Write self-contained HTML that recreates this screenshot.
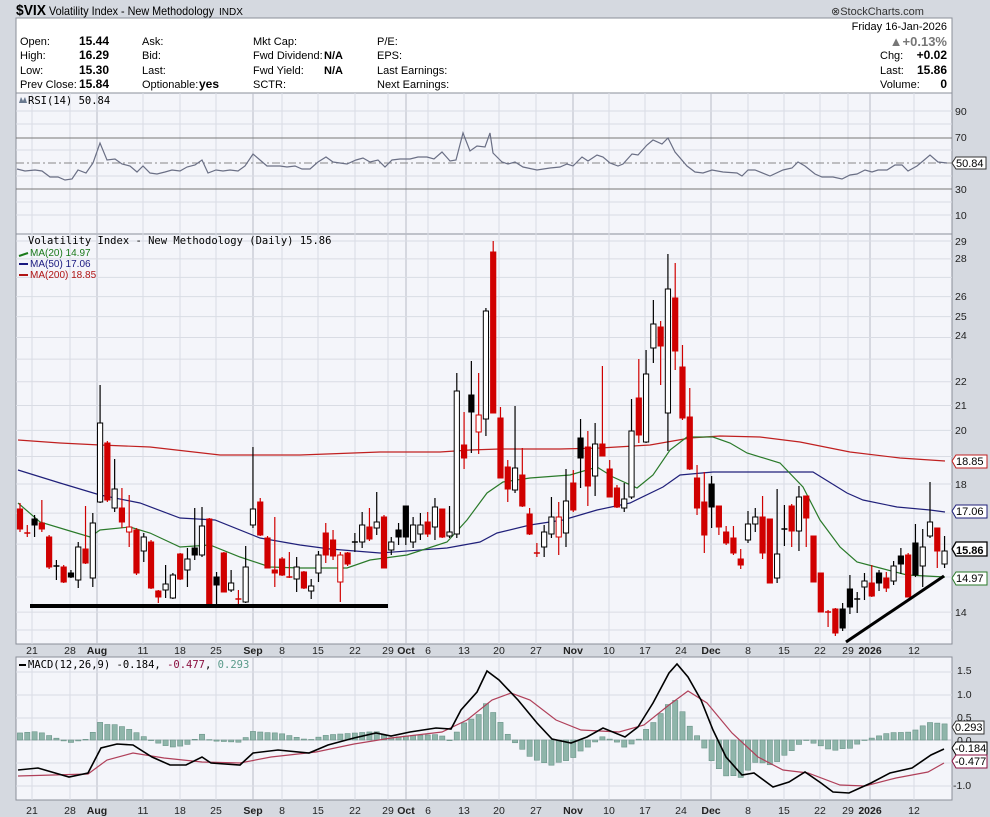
<!DOCTYPE html>
<html><head><meta charset="utf-8">
<style>
html,body{margin:0;padding:0;background:#d5d9e0;}
body{width:990px;height:817px;position:relative;overflow:hidden;font-family:"Liberation Sans",sans-serif;}
svg{position:absolute;left:0;top:0;}
</style></head><body>
<svg id="s" width="990" height="817" xmlns="http://www.w3.org/2000/svg" font-family="Liberation Sans, sans-serif">
<rect x="0" y="0" width="990" height="817" fill="#d5d9e0"/>
<!-- header -->
<text x="16" y="15" font-size="15" font-weight="bold" fill="#000" textLength="30" lengthAdjust="spacingAndGlyphs">$VIX</text>
<text x="49" y="15" font-size="12" fill="#000" textLength="165" lengthAdjust="spacingAndGlyphs">Volatility Index - New Methodology</text>
<text x="219" y="15" font-size="10" fill="#000" textLength="24" lengthAdjust="spacingAndGlyphs">INDX</text>
<text x="831" y="15" font-size="11" fill="#333">⊗StockCharts.com</text>
<rect x="16" y="18" width="936" height="75" fill="#fff" stroke="#8a8f99"/>
<g font-size="11" fill="#000">
<text x="20" y="45">Open:</text><text x="20" y="59">High:</text><text x="20" y="74">Low:</text><text x="20" y="88">Prev Close:</text>
<g font-weight="bold" font-size="12"><text x="79" y="45">15.44</text><text x="79" y="59">16.29</text><text x="79" y="74">15.30</text><text x="79" y="88">15.84</text></g>
<text x="142" y="45">Ask:</text><text x="142" y="59">Bid:</text><text x="142" y="74">Last:</text><text x="142" y="88">Optionable:</text><text x="199" y="88" font-weight="bold" font-size="12">yes</text>
<text x="253" y="45">Mkt Cap:</text><text x="253" y="59">Fwd Dividend:</text><text x="253" y="74">Fwd Yield:</text><text x="253" y="88">SCTR:</text>
<text x="324" y="59" font-weight="bold">N/A</text><text x="324" y="74" font-weight="bold">N/A</text>
<text x="377" y="45">P/E:</text><text x="377" y="59">EPS:</text><text x="377" y="74">Last Earnings:</text><text x="377" y="88">Next Earnings:</text>
<text x="947" y="30" text-anchor="end">Friday  16-Jan-2026</text>
<text x="947" y="46" text-anchor="end" font-weight="bold" font-size="13" fill="#777">▲+0.13%</text>
<text x="880" y="59">Chg:</text><text x="947" y="59" text-anchor="end" font-weight="bold" font-size="12">+0.02</text>
<text x="880" y="74">Last:</text><text x="947" y="74" text-anchor="end" font-weight="bold" font-size="12">15.86</text>
<text x="880" y="88">Volume:</text><text x="947" y="88" text-anchor="end" font-weight="bold" font-size="12">0</text>
</g>
<!-- panels -->
<rect x="16" y="93" width="936" height="141" fill="#f4f5fa" stroke="#8a8f99"/>
<rect x="16" y="234" width="936" height="410" fill="#f4f5fa" stroke="#8a8f99"/>
<rect x="16" y="657" width="936" height="143" fill="#f4f5fa" stroke="#8a8f99"/>
<g id="grid"></g>
<!-- RSI lines -->
<line x1="16" y1="138" x2="952" y2="138" stroke="#777" stroke-width="1"/>
<line x1="16" y1="189" x2="952" y2="189" stroke="#777" stroke-width="1"/>
<line x1="16" y1="163" x2="952" y2="163" stroke="#888" stroke-dasharray="8,3,2,3"/>
<polyline id="rsi" fill="none" stroke="#6a6f85" stroke-width="1.2"/>
<g font-size="11" fill="#000">
<text x="28" y="104" font-family="DejaVu Sans Mono, monospace" font-size="10.5">RSI(14) 50.84</text>
<text x="28" y="244" font-family="DejaVu Sans Mono, monospace" font-size="10.5">Volatility Index - New Methodology (Daily) 15.86</text>
<text x="30" y="256" font-size="10" fill="#1a7a1a">MA(20) 14.97</text>
<text x="30" y="267" font-size="10" fill="#1a1a80">MA(50) 17.06</text>
<text x="30" y="278" font-size="10" fill="#b01515">MA(200) 18.85</text>
<text x="28" y="668" font-family="DejaVu Sans Mono, monospace" font-size="10.5">MACD(12,26,9) -0.184, <tspan fill="#8a1040">-0.477</tspan>, <tspan fill="#5a9a8a">0.293</tspan></text>
</g>
<path d="M19 103 l2-6 2 4 2-4 2 6z" fill="#6a7a90"/>
<line x1="19" y1="256" x2="28" y2="253" stroke="#1a7a1a" stroke-width="2"/>
<line x1="19" y1="264" x2="28" y2="264" stroke="#1a1a80" stroke-width="2"/>
<line x1="19" y1="275" x2="28" y2="275" stroke="#b01515" stroke-width="2"/>
<line x1="19" y1="665" x2="26" y2="665" stroke="#000" stroke-width="2"/>
<g id="hist"></g>
<polyline id="ma200" fill="none" stroke="#c02020" stroke-width="1.2"/>
<polyline id="ma50" fill="none" stroke="#20207a" stroke-width="1.2"/>
<polyline id="ma20" fill="none" stroke="#2a7a2a" stroke-width="1.2"/>
<g id="candles"></g>
<line x1="30" y1="606" x2="388" y2="606" stroke="#000" stroke-width="4"/>
<line x1="846" y1="642" x2="944" y2="576" stroke="#000" stroke-width="3"/>
<polyline id="sig" fill="none" stroke="#b0405a" stroke-width="1.2"/>
<polyline id="macd" fill="none" stroke="#000" stroke-width="1.6"/>
<!-- right axis -->
<g font-size="10.5" fill="#222">
<text x="955" y="115">90</text><text x="955" y="141">70</text><text x="955" y="193">30</text><text x="955" y="219">10</text>
<text x="955" y="245">29</text><text x="955" y="262">28</text><text x="955" y="300">26</text><text x="955" y="320">25</text><text x="955" y="339">24</text><text x="955" y="385">22</text><text x="955" y="409">21</text><text x="955" y="434">20</text><text x="955" y="488">18</text><text x="955" y="616">14</text>
<text x="957" y="674">1.5</text><text x="957" y="698">1.0</text><text x="957" y="721">0.5</text><text x="957" y="744">0.0</text><text x="953" y="789">-1.0</text>
</g>
<g font-size="11">
<path d="M952 163 l4-6 h30 v12 h-30z" fill="#fff" stroke="#333"/><text x="956" y="167">50.84</text>
<path d="M952 461 l4-6 h31 v13 h-31z" fill="#fff" stroke="#c02020"/><text x="956" y="465">18.85</text>
<path d="M952 511 l4-6 h31 v13 h-31z" fill="#fff" stroke="#20207a"/><text x="956" y="515">17.06</text>
<path d="M952 549 l4-7 h31 v14 h-31z" fill="#fff" stroke="#000" stroke-width="1.3"/><text x="956" y="554" font-weight="bold">15.86</text>
<path d="M952 578 l4-6 h31 v13 h-31z" fill="#fff" stroke="#2a7a2a"/><text x="956" y="582">14.97</text>
<path d="M952 727 l4-6 h28 v13 h-28z" fill="#fff" stroke="#333"/><text x="955" y="731">0.293</text>
<path d="M952 748 l4-6 h31 v13 h-31z" fill="#fff" stroke="#000"/><text x="955" y="752">-0.184</text>
<path d="M952 761 l4-6 h31 v13 h-31z" fill="#fff" stroke="#8a1040"/><text x="955" y="765">-0.477</text>
</g>
<g id="xl1" font-size="10.5" fill="#222"></g>
</svg>
<script>
var NS="http://www.w3.org/2000/svg";
function el(p,t,a){var e=document.createElementNS(NS,t);for(var k in a)e.setAttribute(k,a[k]);p.appendChild(e);return e;}
var g=document.getElementById('grid');
var labs=[[32,"21"],[70,"28"],[97,"Aug",1],[143,"11"],[180,"18"],[216,"25"],[253,"Sep",1],[282,"8"],[318,"15"],[355,"22"],[388,"29"],[406,"Oct",1],[428,"6"],[464,"13"],[499,"20"],[536,"27"],[573,"Nov",1],[609,"10"],[645,"17"],[681,"24"],[711,"Dec",1],[748,"8"],[784,"15"],[820,"22"],[848,"29"],[870,"2026",1],[914,"12"]];
labs.forEach(function(l){
 var c=l[2]?"#b8bcc6":"#d9dce4";
 [[93,234],[234,644],[657,800]].forEach(function(r){el(g,'line',{x1:l[0],x2:l[0],y1:r[0],y2:r[1],stroke:c});});
 [650,810].forEach(function(y){var t=el(document.getElementById('xl1'),'text',{x:l[0],y:y+4,'text-anchor':'middle'});if(l[2])t.setAttribute('font-weight','bold');t.textContent=l[1];});
});
[111,124,150,176,202,215].forEach(function(y){el(g,'line',{x1:16,x2:952,y1:y,y2:y,stroke:"#d9dce4"});});
for(var v=14;v<=29;v++){var y=241+509.6*Math.log(29/v);el(g,'line',{x1:16,x2:952,y1:y,y2:y,stroke:"#d9dce4"});}
el(g,'line',{x1:16,x2:952,y1:630,y2:630,stroke:"#d9dce4"});
[672,695,718,763,786].forEach(function(y){el(g,'line',{x1:16,x2:952,y1:y,y2:y,stroke:"#d9dce4"});});
el(g,'line',{x1:16,x2:952,y1:740,y2:740,stroke:"#b8bcc6"});
function pl(id,s){document.getElementById(id).setAttribute('points',s);}
pl('rsi',"17,169 25,171 35,170 42,171 50,177 58,177 65,180 72,179 78,170 86,173 93,163 100,143 107,160 115,159 122,164 130,166 137,172 143,166 150,173 157,174 165,172 172,170 180,171 187,167 195,165 202,160 208,173 216,170 223,171 230,170 238,171 245,166 253,154 260,160 267,166 280,166 287,167 295,166 302,169 310,169 318,162 326,157 333,162 340,163 347,164 356,160 363,158 370,162 378,160 385,167 392,160 400,159 410,159 418,157 427,157 434,159 442,152 450,161 456,160 463,133 470,151 477,146 485,147 490,133 493,153 502,162 508,164 515,162 523,167 537,170 550,168 560,167 567,164 573,166 582,157 588,161 597,155 603,157 610,163 618,166 623,164 632,154 638,155 647,145 653,140 662,144 668,138 675,152 687,166 695,172 703,173 712,170 723,172 737,173 742,176 748,170 755,170 770,176 783,170 792,168 798,162 805,166 815,174 822,177 833,177 842,179 850,175 857,174 865,170 872,172 878,170 887,170 895,165 902,165 908,171 917,166 923,161 930,155 938,162 947,163");
pl('ma200',"18,440 60,443 100,445 150,447 220,455 300,455 380,452 440,452 470,450 500,449 560,449 600,448 650,445 690,438 720,436 760,437 800,442 850,452 900,458 945,461");
pl('ma50',"18,470 60,483 100,495 140,503 180,518 215,520 260,538 300,545 330,549 380,553 447,548 480,542 497,533 530,525 563,520 597,510 630,503 663,487 680,475 713,472 813,472 847,493 863,500 897,507 930,510 945,512");
pl('ma20',"18,503 40,522 70,531 90,537 100,530 130,527 150,533 180,547 210,545 240,557 270,567 300,568 347,568 370,560 407,555 447,542 467,520 487,493 503,482 530,478 570,475 597,467 613,477 637,488 653,475 670,450 687,437 713,437 730,443 747,453 780,463 803,487 820,520 840,547 857,562 880,568 907,575 945,577");
var M=[[18,770],[38,768],[69,777],[88,773],[101,748],[117,744],[133,745],[152,757],[170,765],[186,765],[202,757],[211,763],[240,765],[253,753],[278,750],[309,753],[328,745],[354,738],[376,733],[391,736],[410,732],[436,728],[451,729],[461,710],[477,692],[487,671],[499,680],[518,700],[537,723],[552,739],[571,743],[587,737],[603,728],[625,737],[638,727],[653,703],[669,673],[677,664],[688,677],[701,700],[713,730],[726,757],[742,775],[754,773],[773,787],[789,782],[805,772],[821,783],[833,792],[849,793],[871,783],[890,773],[912,768],[931,755],[944,749]];
var S=[[18,776],[88,774],[107,760],[133,753],[164,758],[202,762],[240,763],[271,757],[316,752],[354,744],[391,738],[442,732],[467,720],[492,700],[511,693],[530,700],[556,720],[581,730],[619,732],[644,725],[669,705],[688,691],[707,703],[732,733],[758,757],[783,770],[808,773],[840,785],[865,786],[896,778],[928,772],[944,763]];
pl('macd',M.map(function(p){return p.join(',');}).join(' '));
pl('sig',S.map(function(p){return p.join(',');}).join(' '));
function interp(A,x){for(var i=0;i<A.length-1;i++){if(x>=A[i][0]&&x<=A[i+1][0]){var t=(x-A[i][0])/(A[i+1][0]-A[i][0]);return A[i][1]+t*(A[i+1][1]-A[i][1]);}}return A[x<A[0][0]?0:A.length-1][1];}
var h=document.getElementById('hist');
for(var i=0;i<128;i++){var x=20+7.28*i;var d=1.15*(interp(S,x)-interp(M,x));var y1=740-d,y0=740;el(h,'rect',{x:x-2.6,y:Math.min(y0,y1),width:5.2,height:Math.max(0.5,Math.abs(d)),fill:"#8fb5aa",stroke:"#6a9488","stroke-width":0.6});}
var C=[[0,'R',509,529,503,532],[1,'x',533,533,525,537],[2,'K',519,525,515,537],[3,'R',523,529,500,532],[4,'R',537,567,535,569],[5,'k',566,566,560,580],[6,'R',567,582,565,583],[7,'K',573,577,570,578],[8,'W',547,580,542,588],[9,'R',549,563,506,564],[10,'W',523,578,513,587],[11,'W',423,502,385,503],[12,'R',443,500,441,502],[13,'W',489,508,459,512],[14,'R',508,522,488,528],[15,'r',527,532,495,547],[16,'R',530,573,528,575],[17,'W',537,551,533,562],[18,'R',542,588,540,589],[19,'R',591,597,590,603],[20,'W',584,590,565,598],[21,'W',575,598,573,599],[22,'R',554,579,553,580],[23,'W',559,570,548,587],[24,'K',548,555,508,560],[25,'W',526,555,507,557],[26,'R',519,605,518,605],[27,'K',577,585,572,605],[28,'R',553,592,552,592],[29,'W',583,590,570,592],[30,'x',599,599,590,608],[31,'W',567,602,546,603],[32,'W',509,525,447,528],[33,'R',502,535,498,536],[34,'R',538,568,536,568],[35,'R',570,573,517,587],[36,'R',559,575,557,576],[37,'x',577,577,552,578],[38,'W',567,579,557,592],[39,'R',572,588,571,589],[40,'W',586,591,579,599],[41,'W',555,573,551,582],[42,'R',533,555,523,563],[43,'R',540,556,530,560],[44,'r',555,582,552,602],[45,'R',553,564,552,566],[46,'k',542,542,533,552],[47,'W',525,542,512,548],[48,'R',527,539,508,541],[49,'W',522,528,492,535],[50,'R',517,568,515,568],[51,'W',542,550,537,555],[52,'K',530,537,523,545],[53,'K',506,537,506,545],[54,'W',525,542,517,548],[55,'W',525,534,513,540],[56,'R',522,534,512,537],[57,'W',507,527,498,540],[58,'R',509,537,509,538],[59,'W',532,536,506,538],[60,'W',391,534,373,538],[61,'R',445,458,412,469],[62,'K',395,412,361,453],[63,'r',415,432,373,454],[64,'W',311,419,308,436],[65,'R',252,413,241,413],[66,'R',418,478,407,478],[67,'R',467,489,460,502],[68,'W',468,490,406,493],[69,'R',475,506,448,507],[70,'R',514,534,508,535],[71,'x',553,553,543,557],[72,'W',532,547,525,557],[73,'W',517,534,497,538],[74,'r',517,537,502,555],[75,'W',501,533,469,547],[76,'R',483,510,470,512],[77,'K',438,458,419,488],[78,'R',447,486,431,506],[79,'W',444,476,423,496],[80,'R',444,456,366,456],[81,'R',469,497,460,497],[82,'R',488,507,485,508],[83,'W',499,508,483,512],[84,'W',431,497,399,499],[85,'R',398,435,359,443],[86,'W',374,442,350,443],[87,'W',324,348,300,363],[88,'R',327,346,321,385],[89,'W',289,413,254,451],[90,'R',298,351,263,370],[91,'R',367,418,345,420],[92,'R',417,469,388,470],[93,'R',478,508,465,515],[94,'R',502,535,472,553],[95,'K',484,507,476,528],[96,'R',506,527,506,535],[97,'R',532,543,526,545],[98,'R',538,553,526,555],[99,'R',559,565,549,569],[100,'W',524,540,511,543],[101,'W',517,524,508,532],[102,'R',517,553,496,559],[103,'R',519,583,519,583],[104,'W',554,578,489,583],[105,'k',529,529,505,546],[106,'R',506,531,504,547],[107,'W',497,531,486,551],[108,'R',496,518,496,547],[109,'R',536,582,536,582],[110,'R',573,612,573,612],[111,'x',612,612,610,627],[112,'R',609,633,608,636],[113,'K',609,628,603,631],[114,'K',589,607,575,614],[115,'k',599,599,592,613],[116,'W',581,587,573,600],[117,'R',583,596,565,597],[118,'K',573,583,570,591],[119,'R',578,588,572,592],[120,'W',566,581,561,585],[121,'K',556,564,548,574],[122,'R',555,597,553,597],[123,'K',543,575,524,577],[124,'W',547,566,529,587],[125,'W',522,536,482,538],[126,'R',528,551,528,568],[127,'W',551,564,536,568]];
var cg=document.getElementById('candles');
C.forEach(function(c){var x=20+7.28*c[0],t=c[1];var red=(t=='R'||t=='r'||t=='x');var col=red?"#d00000":"#000";
 el(cg,'line',{x1:x,x2:x,y1:c[4],y2:c[5],stroke:col,'stroke-width':1.2});
 if(t=='x'||t=='k'){el(cg,'line',{x1:x-3,x2:x+3,y1:c[2],y2:c[2],stroke:col,'stroke-width':1.5});return;}
 var fill=(t=='R')?"#d00000":(t=='K')?"#000":"#fff";
 el(cg,'rect',{x:x-2.6,y:c[2],width:5.2,height:Math.max(1,c[3]-c[2]),fill:fill,stroke:col,'stroke-width':1});
});
</script>
</body></html>
